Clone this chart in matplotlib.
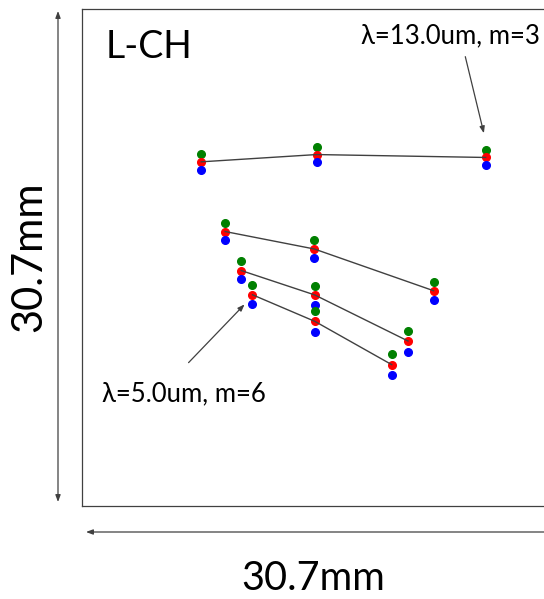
import matplotlib
matplotlib.use("Agg")
import matplotlib.pyplot as plt
from matplotlib.patches import FancyArrowPatch

plt.rcParams['font.family'] = ['Lato', 'DejaVu Sans']

# -----------------------------
# SPOT POSITIONS (mm on 30.7mm)
# -----------------------------
# each order: x of the spots, y of green / red / blue spots
top_x = [7.37, 14.50, 24.96]
top_g = [21.72, 22.18, 21.97]
top_r = [21.25, 21.70, 21.52]
top_b = [20.75, 21.23, 21.04]

a_x = [8.85, 14.37, 21.74]
a_g = [17.46, 16.39, 13.84]
a_r = [16.94, 15.86, 13.28]
a_b = [16.39, 15.30, 12.71]

b_x = [9.84, 14.39, 20.16]
b_g = [15.09, 13.59, 10.81]
b_r = [14.53, 13.02, 10.17]
b_b = [13.98, 12.42, 9.51]

c_x = [10.54, 14.41, 19.15]
c_g = [13.65, 12.00, 9.35]
c_r = [13.03, 11.38, 8.71]
c_b = [12.43, 10.75, 8.05]

orders = [
    (top_x, top_g, top_r, top_b),
    (a_x, a_g, a_r, a_b),
    (b_x, b_g, b_r, b_b),
    (c_x, c_g, c_r, c_b),
]

FIELD = 30.7
title = "L-CH"
label_long = "\u03bb=13.0um, m=3"
label_short = "\u03bb=5.0um, m=6"
size_label = "30.7mm"

# ------------
# DRAW FIGURE
# ------------
fig = plt.figure(figsize=(5.44, 5.99), dpi=100)
ax = fig.add_axes([82 / 544, (599 - 505.5) / 599, 496.5 / 544, 496.5 / 599])
ax.set_xlim(0, FIELD)
ax.set_ylim(0, FIELD)
ax.set_xticks([])
ax.set_yticks([])
for s in ax.spines.values():
    s.set_color("#404040")
    s.set_linewidth(0.9)

for xs, g, r, b in orders:
    ax.plot(xs, g, "o", color="#008000", ms=5.5, zorder=2)
    ax.plot(xs, r, "o", color="#ff0000", ms=5.5, zorder=2)
    ax.plot(xs, b, "o", color="#0000ff", ms=5.5, zorder=2)
    ax.plot(xs, r, "-", color="#404040", lw=1, zorder=3)

ax.text(4.14, 28.35, title, fontsize=27, ha="center", va="center")

# labels with arrows
arrow = dict(arrowstyle="-|>,head_length=0.4,head_width=0.15", color="#404040", lw=0.9)
ax.text(22.79, 29.03, label_long, fontsize=18.5, ha="center", va="center")
ax.annotate("", xy=(24.89, 22.85), xytext=(23.66, 27.92), arrowprops=arrow)
ax.text(6.30, 6.92, label_short, fontsize=18.5, ha="center", va="center")
ax.annotate("", xy=(10.17, 12.56), xytext=(6.47, 8.71), arrowprops=arrow)

# dimension arrows (figure pixels)
dim = dict(arrowstyle="<|-|>,head_length=0.4,head_width=0.15", color="#404040", lw=0.9,
           shrinkA=0, shrinkB=0, mutation_scale=10)
fig.add_artist(FancyArrowPatch((58, 588), (58, 97), transform=None, **dim))
fig.add_artist(FancyArrowPatch((86, 67), (590, 67), transform=None, **dim))
fig.text(29 / 544, 342 / 599, size_label, fontsize=30, rotation=90, ha="center", va="center")
fig.text(313 / 544, 20 / 599, size_label, fontsize=28.5, ha="center", va="center")

fig.savefig("out.png", dpi=100)
